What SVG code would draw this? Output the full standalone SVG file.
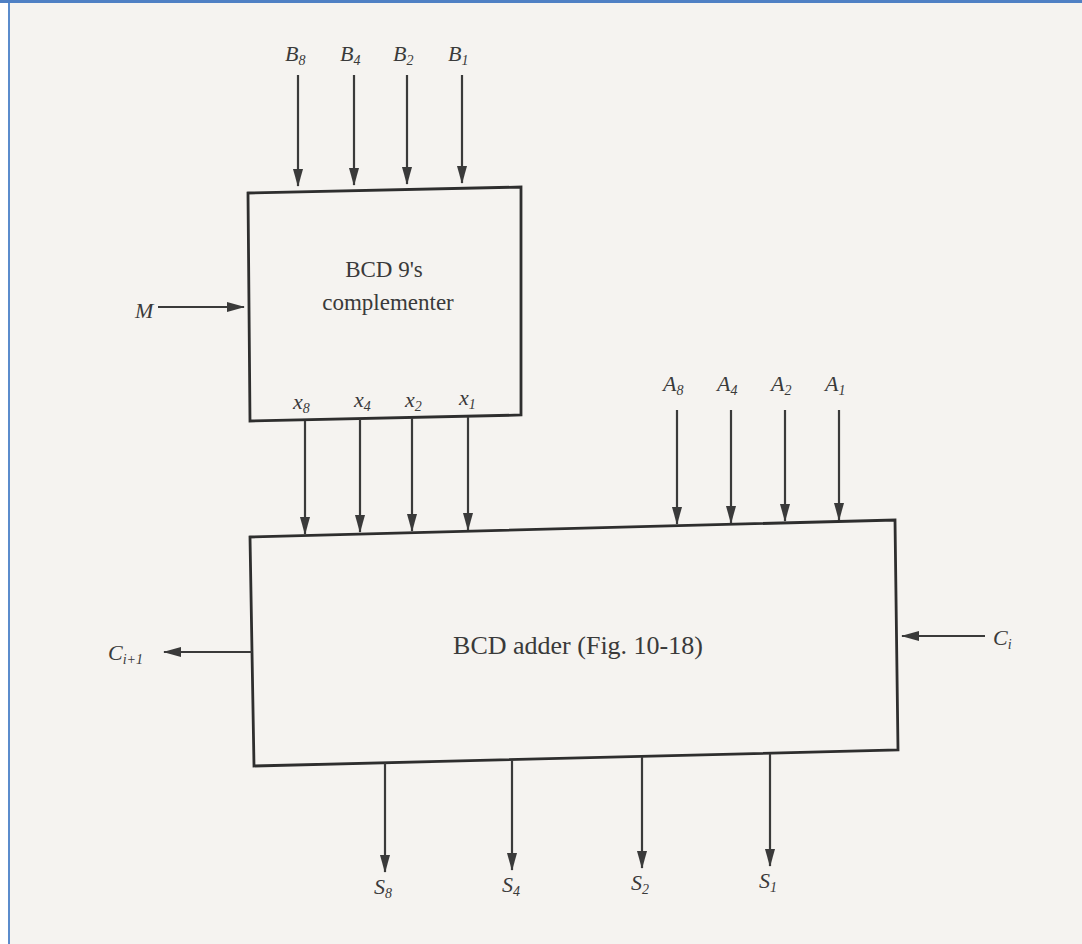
<svg xmlns="http://www.w3.org/2000/svg" width="1082" height="944" viewBox="0 0 1082 944">
<style>
.box{fill:none;stroke:#2e2e2e;stroke-width:2.8}
.w{stroke:#3a3a3a;stroke-width:2.2;fill:none}
.t{font-family:"Liberation Serif",serif;font-size:23px;fill:#3a3a3a}
.big{font-size:26px}
.v{font-family:"Liberation Serif",serif;font-style:italic;font-size:22px;fill:#3a3a3a}
.s{font-size:14px}
</style>
<defs>
<marker id="ah" viewBox="0 0 18 10" refX="17" refY="5" markerWidth="18" markerHeight="10" markerUnits="userSpaceOnUse" orient="auto">
<path d="M0,0 L18,5 L0,10 Z" fill="#3a3a3a"/>
</marker>
</defs>
<rect width="1082" height="944" fill="#f5f3f0"/>
<rect x="0" y="0" width="9" height="944" fill="#ffffff"/>
<rect x="8" y="3" width="2" height="941" fill="#5b8ccc"/>
<rect x="0" y="0" width="1082" height="3" fill="#4f80c4"/>

<g id="complementer">
<polygon class="box" points="248,193 521,187 521,415 250,421"/>
<text class="t" x="384" y="277" text-anchor="middle">BCD 9's</text>
<text class="t" x="388" y="310" text-anchor="middle">complementer</text>
<text class="v" x="293" y="409">x<tspan class="s" dy="4">8</tspan></text>
<text class="v" x="354" y="407">x<tspan class="s" dy="4">4</tspan></text>
<text class="v" x="405" y="407">x<tspan class="s" dy="4">2</tspan></text>
<text class="v" x="459" y="405">x<tspan class="s" dy="4">1</tspan></text>
</g>

<g id="adder">
<polygon class="box" points="250,537 895,520 898,750 254,766"/>
<text class="t big" x="578" y="654" text-anchor="middle">BCD adder (Fig. 10-18)</text>
</g>

<g id="labels">
<text class="v" x="285" y="61">B<tspan class="s" dy="4">8</tspan></text>
<text class="v" x="340" y="61">B<tspan class="s" dy="4">4</tspan></text>
<text class="v" x="393" y="61">B<tspan class="s" dy="4">2</tspan></text>
<text class="v" x="448" y="61">B<tspan class="s" dy="4">1</tspan></text>
<text class="v" x="135" y="318">M</text>
<text class="v" x="663" y="391">A<tspan class="s" dy="4">8</tspan></text>
<text class="v" x="717" y="391">A<tspan class="s" dy="4">4</tspan></text>
<text class="v" x="771" y="391">A<tspan class="s" dy="4">2</tspan></text>
<text class="v" x="825" y="391">A<tspan class="s" dy="4">1</tspan></text>
<text class="v" x="993" y="645">C<tspan class="s" dy="4">i</tspan></text>
<text class="v" x="108" y="660">C<tspan class="s" dy="4">i+1</tspan></text>
<text class="v" x="374" y="894">S<tspan class="s" dy="4">8</tspan></text>
<text class="v" x="502" y="892">S<tspan class="s" dy="4">4</tspan></text>
<text class="v" x="631" y="890">S<tspan class="s" dy="4">2</tspan></text>
<text class="v" x="759" y="888">S<tspan class="s" dy="4">1</tspan></text>
</g>

<g id="connectors">
<line class="w" x1="298" y1="75" x2="298" y2="186" marker-end="url(#ah)"/>
<line class="w" x1="354" y1="75" x2="354" y2="185" marker-end="url(#ah)"/>
<line class="w" x1="407" y1="75" x2="407" y2="184" marker-end="url(#ah)"/>
<line class="w" x1="462" y1="75" x2="462" y2="183" marker-end="url(#ah)"/>
<line class="w" x1="158" y1="307" x2="244" y2="307" marker-end="url(#ah)"/>
<line class="w" x1="305" y1="421" x2="305" y2="534" marker-end="url(#ah)"/>
<line class="w" x1="360" y1="419" x2="360" y2="532" marker-end="url(#ah)"/>
<line class="w" x1="412" y1="418" x2="412" y2="531" marker-end="url(#ah)"/>
<line class="w" x1="468" y1="417" x2="468" y2="530" marker-end="url(#ah)"/>
<line class="w" x1="677" y1="410" x2="677" y2="524" marker-end="url(#ah)"/>
<line class="w" x1="731" y1="410" x2="731" y2="523" marker-end="url(#ah)"/>
<line class="w" x1="785" y1="410" x2="785" y2="521" marker-end="url(#ah)"/>
<line class="w" x1="839" y1="410" x2="839" y2="520" marker-end="url(#ah)"/>
<line class="w" x1="985" y1="636" x2="902" y2="636" marker-end="url(#ah)"/>
<line class="w" x1="252" y1="652" x2="164" y2="652" marker-end="url(#ah)"/>
<line class="w" x1="385" y1="763" x2="385" y2="872" marker-end="url(#ah)"/>
<line class="w" x1="512" y1="760" x2="512" y2="870" marker-end="url(#ah)"/>
<line class="w" x1="642" y1="757" x2="642" y2="868" marker-end="url(#ah)"/>
<line class="w" x1="770" y1="754" x2="770" y2="866" marker-end="url(#ah)"/>
</g>
</svg>
